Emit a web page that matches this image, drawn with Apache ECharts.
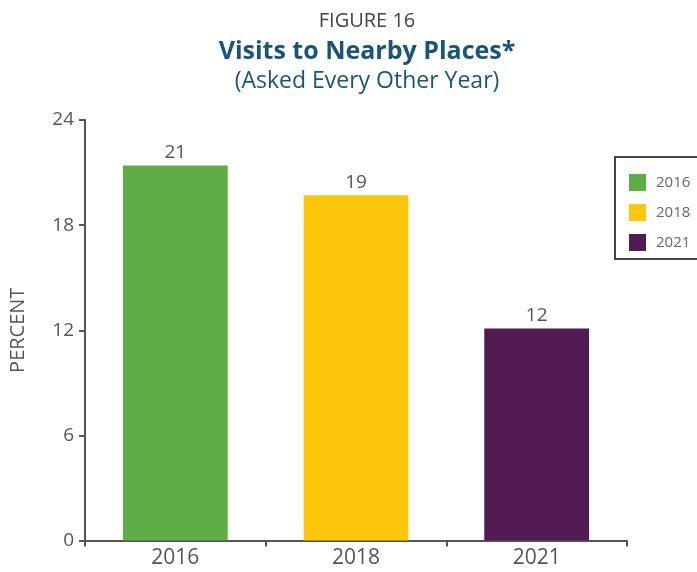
<!DOCTYPE html>
<html>
<head>
<meta charset="utf-8">
<script src="https://cdn.jsdelivr.net/npm/echarts@6/dist/echarts.min.js"></script>
<style>html,body{margin:0;padding:0;background:#fff;}#c{width:697px;height:572px;}</style>
</head>
<body>
<div id="c"></div>
<script>
var categories = ['2016', '2018', '2021'];
var values = [21.4, 19.7, 12.1];
var valueLabels = ['21', '19', '12'];
var colors = ['#5fad46', '#fdc70c', '#521b54'];
var yTicks = [0, 6, 12, 18, 24];

var font = '"Open Sans", "Noto Sans", sans-serif';
var chart = echarts.init(document.getElementById('c'), null, {renderer: 'canvas'});

var series = categories.map(function (cat, i) {
  return {
    name: cat,
    type: 'bar',
    barGap: '-100%',
    barWidth: '58%',
    itemStyle: {color: colors[i]},
    data: categories.map(function (c, j) { return j === i ? values[i] : '-'; }),
    label: {
      show: true, position: 'top', distance: 3,
      color: '#555', fontSize: 19, fontFamily: font,
      formatter: function () { return valueLabels[i]; }
    }
  };
});

chart.setOption({
  animation: false,
  title: [
    {text: 'FIGURE 16', left: 362, textAlign: 'center', top: 6,
     textStyle: {color: '#444', fontSize: 20, fontWeight: 'normal', fontFamily: font}},
    {text: 'Visits to Nearby Places*', left: 362, textAlign: 'center', top: 34,
     textStyle: {color: '#1a5579', fontSize: 25, fontWeight: 'bold', fontFamily: font}},
    {text: '(Asked Every Other Year)', left: 362, textAlign: 'center', top: 65,
     textStyle: {color: '#1a5579', fontSize: 23, fontWeight: 'normal', fontFamily: font}}
  ],
  legend: {
    orient: 'vertical', left: 615, top: 157,
    data: categories,
    itemWidth: 17, itemHeight: 17, itemGap: 13,
    padding: [17, 40, 8, 14],
    borderColor: '#444', borderWidth: 2,
    icon: 'rect',
    textStyle: {color: '#666', fontSize: 15, fontFamily: font, padding: [0, 0, 0, 5]}
  },
  grid: {left: 84, right: 70, top: 120, bottom: 31.5, containLabel: false},
  xAxis: {
    type: 'category', data: categories,
    axisLine: {lineStyle: {color: '#555', width: 2}},
    axisTick: {show: true, length: 6, lineStyle: {color: '#555', width: 2}},
    axisLabel: {color: '#555', fontSize: 21, fontFamily: font, margin: 7}
  },
  yAxis: {
    type: 'value', min: 0, max: 24, interval: 6,
    name: 'PERCENT', nameLocation: 'middle', nameGap: 57, nameRotate: 90,
    nameTextStyle: {color: '#555', fontSize: 20, fontFamily: font},
    axisLine: {show: true, lineStyle: {color: '#555', width: 2}},
    axisTick: {show: true, length: 6, lineStyle: {color: '#555', width: 2}},
    splitLine: {show: false},
    axisLabel: {color: '#555', fontSize: 19, fontFamily: font, margin: 11,
      formatter: function (v) { return yTicks.indexOf(v) >= 0 ? String(v) : ''; }}
  },
  series: series
});
</script>
</body>
</html>
